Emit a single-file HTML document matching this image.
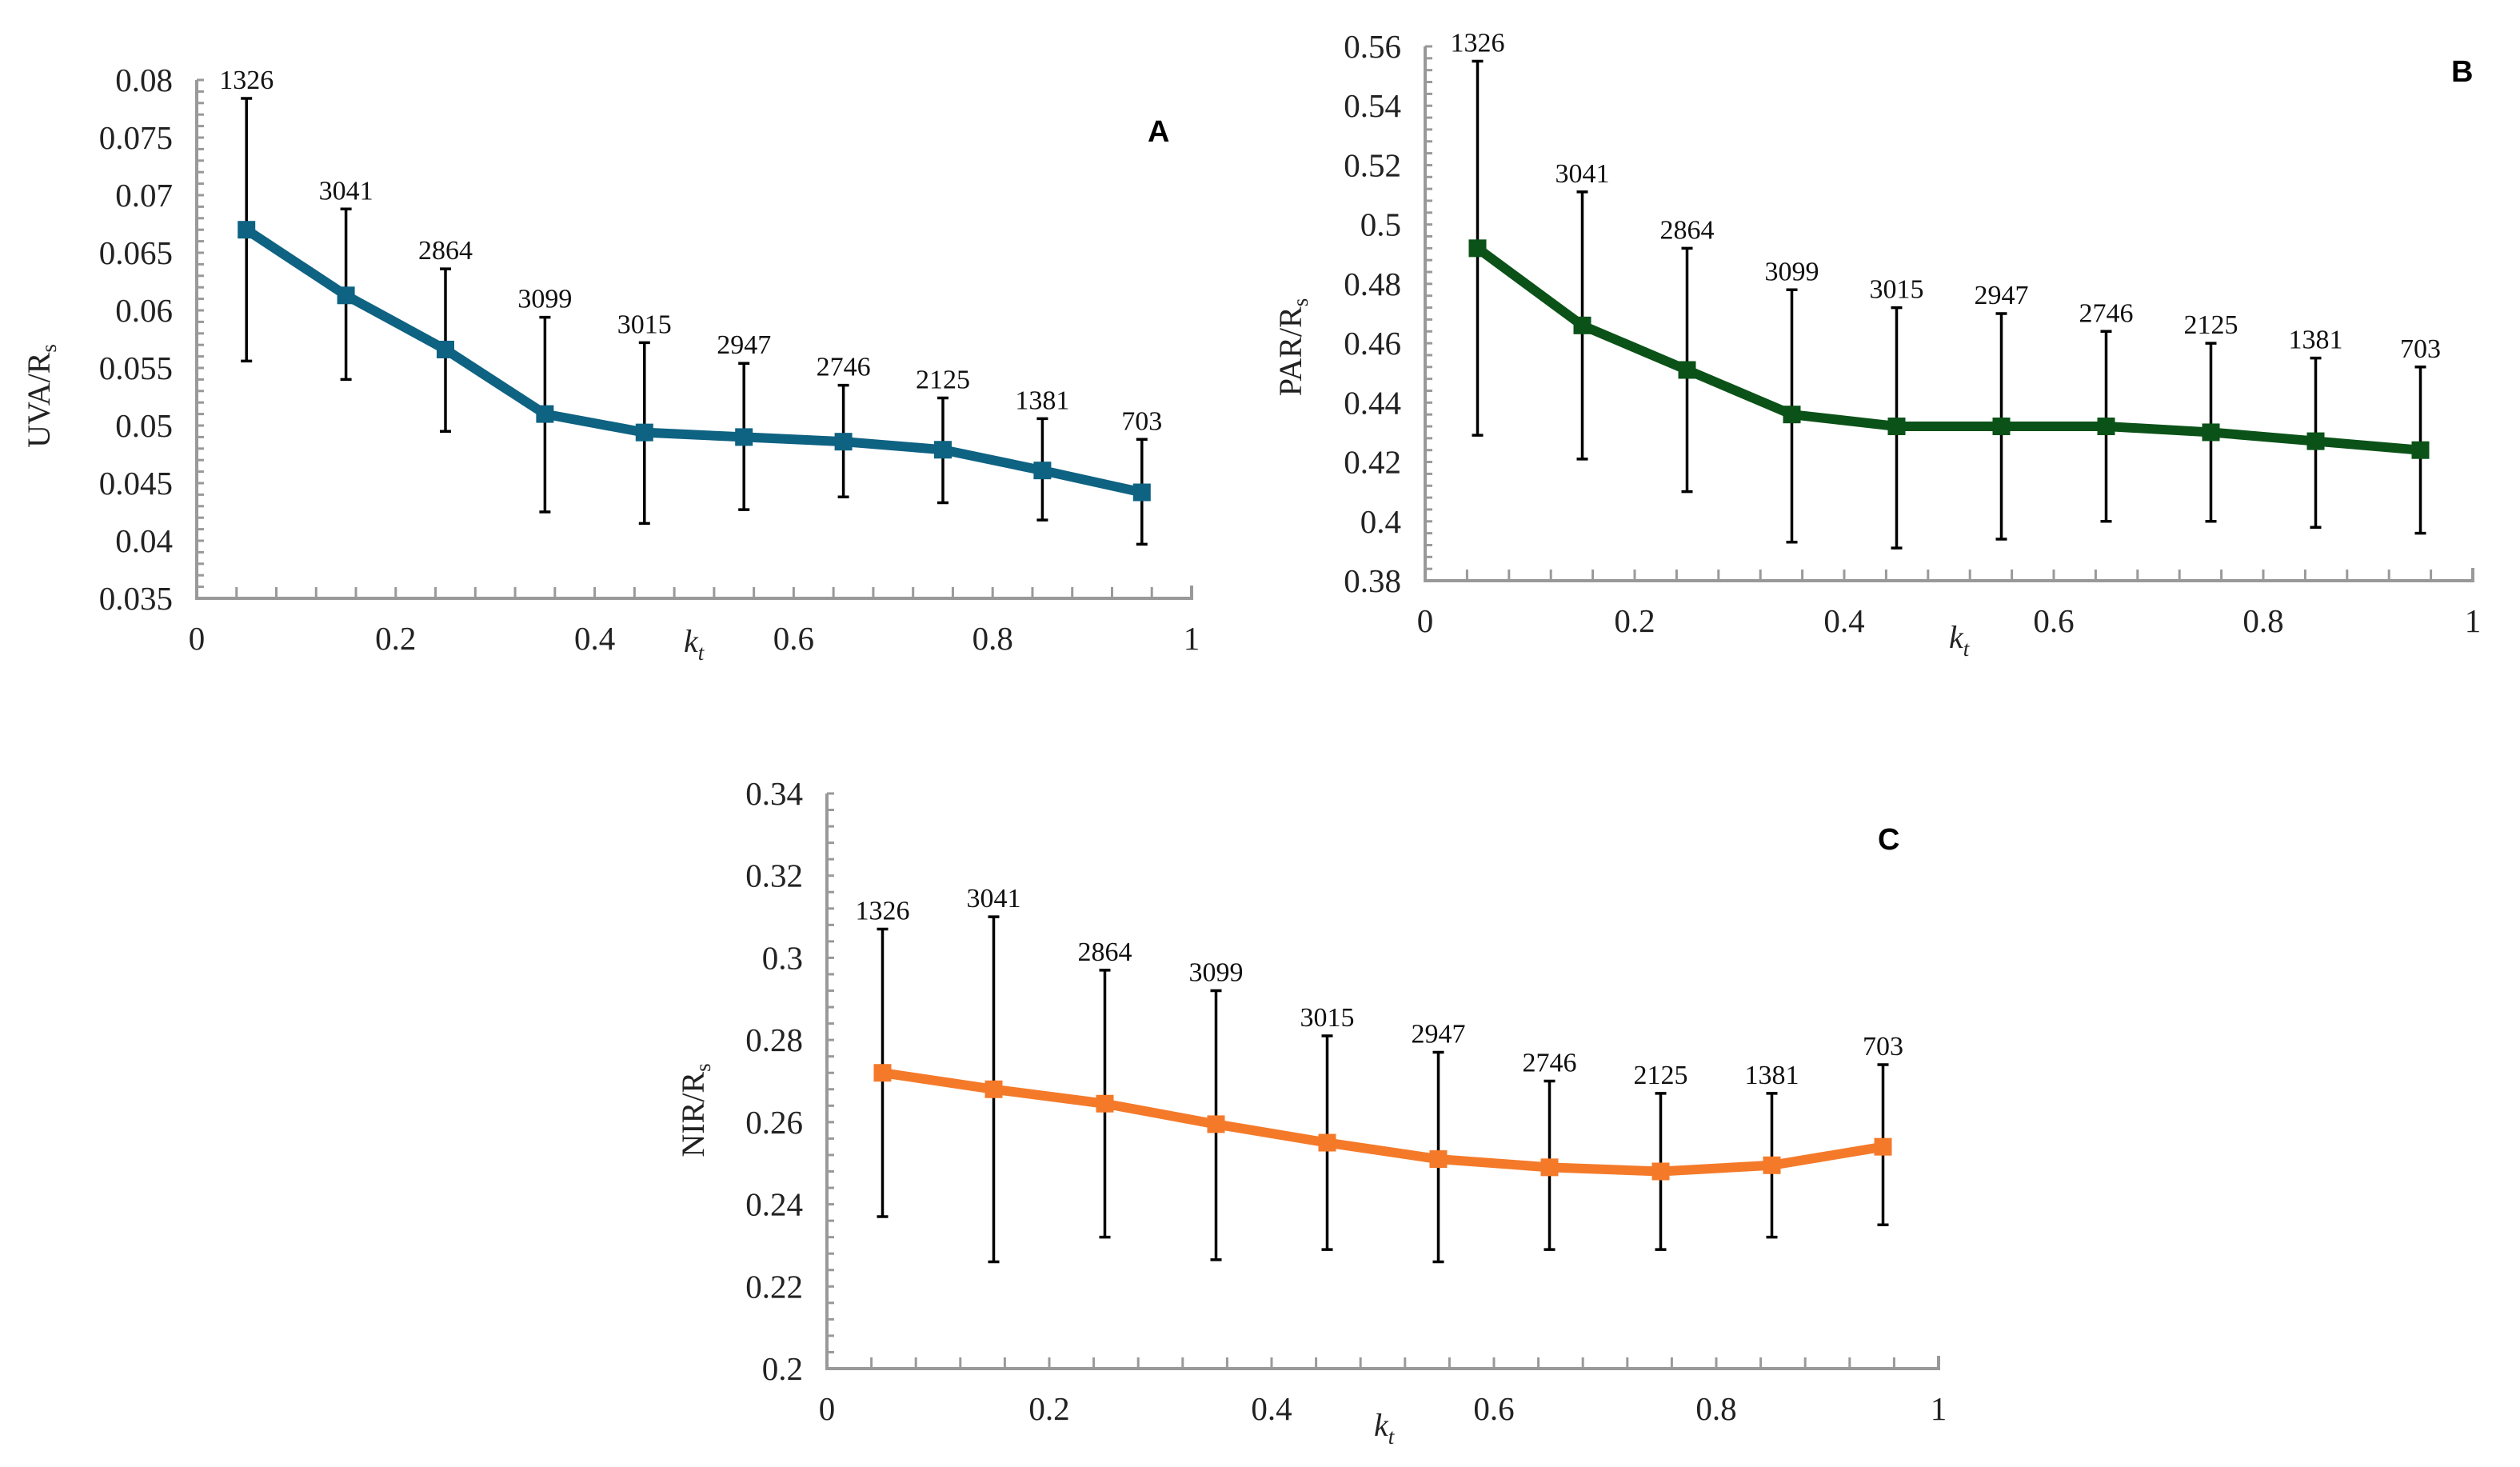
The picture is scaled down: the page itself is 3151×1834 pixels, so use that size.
<!DOCTYPE html>
<html><head><meta charset="utf-8"><style>
html,body{margin:0;padding:0;background:#fff;}
svg{display:block;font-family:"Liberation Serif",serif;}
</style></head><body>
<svg id="chart" width="3151" height="1834" viewBox="0 0 3151 1834" xmlns="http://www.w3.org/2000/svg"></svg>
<script>
const kt = [0.05,0.15,0.25,0.35,0.45,0.55,0.65,0.75,0.85,0.95];
const counts = ["1326","3041","2864","3099","3015","2947","2746","2125","1381","703"];
const xTicks = ["0","0.2","0.4","0.6","0.8","1"];
const uvaMean = [0.067,0.0613,0.0566,0.051,0.0494,0.049,0.0486,0.0479,0.0461,0.0442];
const uvaHi = [0.0784,0.0688,0.0636,0.0594,0.0572,0.0554,0.0535,0.0524,0.0506,0.0488];
const uvaLo = [0.0556,0.054,0.0495,0.0425,0.0415,0.0427,0.0438,0.0433,0.0418,0.0397];
const uvaTicks = ["0.035","0.04","0.045","0.05","0.055","0.06","0.065","0.07","0.075","0.08"];
const parMean = [0.492,0.466,0.451,0.436,0.432,0.432,0.432,0.430,0.427,0.424];
const parHi = [0.555,0.511,0.492,0.478,0.472,0.470,0.464,0.460,0.455,0.452];
const parLo = [0.429,0.421,0.410,0.393,0.391,0.394,0.400,0.400,0.398,0.396];
const parTicks = ["0.38","0.4","0.42","0.44","0.46","0.48","0.5","0.52","0.54","0.56"];
const nirMean = [0.272,0.268,0.2645,0.2595,0.255,0.251,0.249,0.248,0.2495,0.254];
const nirHi = [0.307,0.310,0.297,0.292,0.281,0.277,0.270,0.267,0.267,0.274];
const nirLo = [0.237,0.226,0.232,0.2265,0.229,0.226,0.229,0.229,0.232,0.235];
const nirTicks = ["0.2","0.22","0.24","0.26","0.28","0.3","0.32","0.34"];

const NS = "http://www.w3.org/2000/svg";
const svg = document.getElementById('chart');
function mk(tag, attrs, parent){
  const e = document.createElementNS(NS, tag);
  for (const k in attrs) e.setAttribute(k, attrs[k]);
  (parent||svg).appendChild(e);
  return e;
}
function panel(o){
  const g = mk('g', {});
  
  
  const yMin = parseFloat(o.yTicks[0]), yMax = parseFloat(o.yTicks[o.yTicks.length-1]);
  const X = v => o.x0 + (o.x1 - o.x0) * v;
  const Y = v => o.yb - (o.yb - o.yt) * (v - yMin) / (yMax - yMin);
  const nMaj = o.yTicks.length - 1;
  for (let i = 0; i <= nMaj * 5; i++) {
    const yy = o.yb - (o.yb - o.yt) * i / (nMaj * 5);
    const t = mk('line', {x1:o.x0, x2:o.x0+9, y1:yy, y2:yy, stroke:'#999', 'stroke-width':3}, g);
    
    
  }
  for (let i = 0; i <= 25; i++) {
    const xx = o.x0 + (o.x1 - o.x0) * i / 25;
    const t = mk('line', {x1:xx, x2:xx, y1:o.yb, y2:o.yb-14, stroke:'#999', 'stroke-width':3}, g);
    
    
  }
  const ax = mk('path', {d:`M${o.x0},${o.yt} V${o.yb} H${o.x1} V${o.yb-16}`, fill:'none', stroke:'#999', 'stroke-width':4}, g);
  
  
  o.yTicks.forEach(s => {
    const t = mk('text', {x:o.x0-30, y:Y(parseFloat(s))+14, 'text-anchor':'end', 'font-size':41, fill:'#222'}, g);
    t.textContent = s;
    
    
  });
  xTicks.forEach(s => {
    const t = mk('text', {x:X(parseFloat(s)), y:o.yb+64, 'text-anchor':'middle', 'font-size':41, fill:'#222'}, g);
    t.textContent = s;
    
    
  });
  kt.forEach((k, i) => {
    const xx = X(k);
    const eb = mk('path', {d:`M${xx},${Y(o.hi[i])} V${Y(o.lo[i])} M${xx-7},${Y(o.hi[i])} H${xx+7} M${xx-7},${Y(o.lo[i])} H${xx+7}`, stroke:'#000', 'stroke-width':3.5, fill:'none'}, g);
    
    
    const t = mk('text', {x:xx, y:Y(o.hi[i])-12, 'text-anchor':'middle', 'font-size':34, fill:'#111'}, g);
    t.textContent = counts[i];
    
    
  });
  const pts = kt.map((k, i) => X(k) + ',' + Y(o.mean[i])).join(' ');
  const ln = mk('polyline', {points:pts, fill:'none', stroke:o.color, 'stroke-width':12, 'stroke-linejoin':'round'}, g);
  
  
  kt.forEach((k, i) => {
    const m = mk('rect', {x:X(k)-11, y:Y(o.mean[i])-11, width:22, height:22, fill:o.color}, g);
    
    
  });
  const xt = mk('text', {x:o.xt[0], y:o.xt[1], 'font-size':40, 'font-style':'italic', fill:'#222'}, g);
  xt.innerHTML = 'k<tspan font-size="27" dy="10">t</tspan>';
  
  
  const yt = mk('text', {x:0, y:0, 'font-size':40, 'text-anchor':'middle', fill:'#222', transform:`translate(${o.ytl[0]},${o.ytl[1]}) rotate(-90)`}, g);
  yt.innerHTML = o.ylab + '/R<tspan font-size="27" dy="8">s</tspan>';
  
  
  const pl = mk('text', {x:o.letter[0], y:o.letter[1], 'font-size':38, 'font-weight':'bold', 'font-family':'Liberation Sans, sans-serif', fill:'#000'}, g);
  pl.textContent = o.letterText;
  
  
}
panel({name:'panel-a-uva', x0:246, x1:1490, yt:100, yb:748, yTicks:uvaTicks, mean:uvaMean, hi:uvaHi, lo:uvaLo, color:'#0e6282', xt:[855,815], ytl:[62,495], ylab:'UVA', letter:[1435,177], letterText:'A'});
panel({name:'panel-b-par', x0:1782, x1:3092, yt:58, yb:726, yTicks:parTicks, mean:parMean, hi:parHi, lo:parLo, color:'#0b5218', xt:[2437,810], ytl:[1627,434], ylab:'PAR', letter:[3065,102], letterText:'B'});
panel({name:'panel-c-nir', x0:1034, x1:2424, yt:992, yb:1711, yTicks:nirTicks, mean:nirMean, hi:nirHi, lo:nirLo, color:'#f47a2a', xt:[1718,1795], ytl:[880,1388], ylab:'NIR', letter:[2348,1062], letterText:'C'});
</script>
</body></html>
